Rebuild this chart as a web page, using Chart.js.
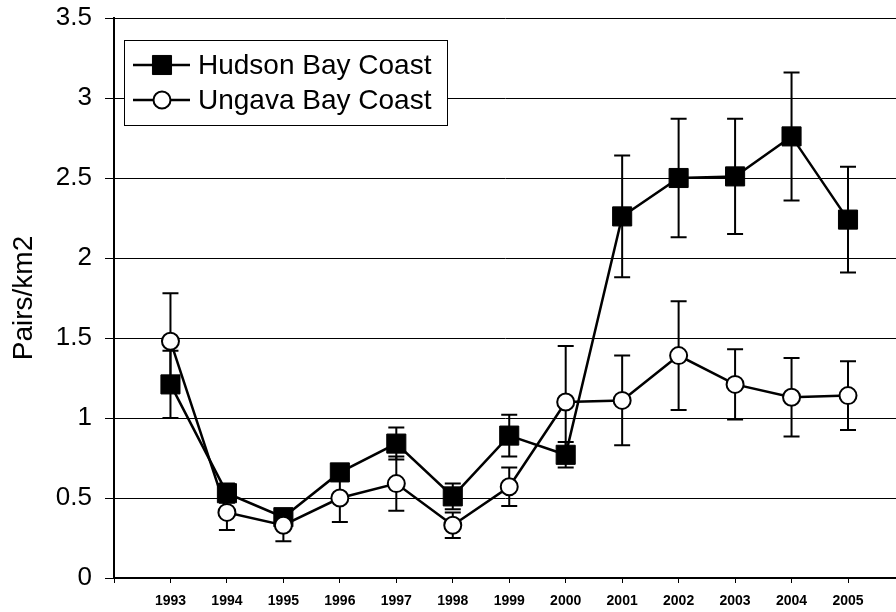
<!DOCTYPE html>
<html lang="en">
<head>
  <meta charset="UTF-8">
  <title>Pairs/km2 by year</title>
  <script src="https://cdn.jsdelivr.net/npm/chart.js"></script>
  <style>
    html, body {
      margin: 0;
      padding: 0;
      background: #fff;
      overflow: hidden;
    }

    canvas {
      display: block;
    }
  </style>
</head>
<body>
  <canvas id="chart" width="896" height="612"></canvas>

  <script>
    // data
    const years = [1993, 1994, 1995, 1996, 1997, 1998, 1999, 2000, 2001, 2002, 2003, 2004, 2005];
    const hudson = [1.21, 0.53, 0.38, 0.66, 0.84, 0.51, 0.89, 0.77, 2.26, 2.50, 2.51, 2.76, 2.24];
    const hudsonErr = [0.21, 0.06, 0.05, 0.05, 0.10, 0.08, 0.13, 0.08, 0.38, 0.37, 0.36, 0.40, 0.33];
    const ungava = [1.48, 0.41, 0.33, 0.50, 0.59, 0.33, 0.57, 1.10, 1.11, 1.39, 1.21, 1.13, 1.14];
    const ungavaErr = [0.30, 0.11, 0.10, 0.15, 0.17, 0.08, 0.12, 0.35, 0.28, 0.34, 0.22, 0.245, 0.215];
    const seriesNames = ['Hudson Bay Coast', 'Ungava Bay Coast'];
    const yTicks = [0, 0.5, 1, 1.5, 2, 2.5, 3, 3.5];

    const FONT = "'Liberation Sans', Arial, sans-serif";

    function points(vals) {
      return years.map((y, i) => ({ x: y, y: vals[i] }));
    }

    // vertical error bars with caps, drawn under the markers
    const errorBars = {
      id: 'errorBars',
      beforeDatasetsDraw(chart) {
        const ctx = chart.ctx;
        const xs = chart.scales.x;
        const ys = chart.scales.y;
        ctx.save();
        ctx.strokeStyle = '#000';
        ctx.lineWidth = 2;
        chart.data.datasets.forEach(ds => {
          ds.data.forEach((p, i) => {
            const e = ds.errors[i];
            const px = xs.getPixelForValue(p.x);
            const top = ys.getPixelForValue(p.y + e);
            const bot = ys.getPixelForValue(p.y - e);
            ctx.beginPath();
            ctx.moveTo(px, top);
            ctx.lineTo(px, bot);
            ctx.moveTo(px - 8, top);
            ctx.lineTo(px + 8, top);
            ctx.moveTo(px - 8, bot);
            ctx.lineTo(px + 8, bot);
            ctx.stroke();
          });
        });
        ctx.restore();
      }
    };

    // boxed legend inside the plot, top left
    const boxLegend = {
      id: 'boxLegend',
      afterDraw(chart) {
        const ctx = chart.ctx;
        const area = chart.chartArea;
        const bx = area.left + 10, by = area.top + 22;
        const bw = 323, bh = 85;
        ctx.save();
        ctx.fillStyle = '#fff';
        ctx.fillRect(bx, by, bw, bh);
        ctx.strokeStyle = '#000';
        ctx.lineWidth = 1;
        ctx.strokeRect(bx + 0.5, by + 0.5, bw, bh);
        ctx.font = '28px ' + FONT;
        ctx.textBaseline = 'middle';
        chart.data.datasets.forEach((ds, i) => {
          const cy = by + 25 + i * 35;
          ctx.strokeStyle = '#000';
          ctx.lineWidth = 2.5;
          ctx.beginPath();
          ctx.moveTo(bx + 9, cy);
          ctx.lineTo(bx + 66, cy);
          ctx.stroke();
          ctx.fillStyle = ds.pointBackgroundColor;
          ctx.beginPath();
          if (ds.pointStyle === 'circle') {
            ctx.arc(bx + 38, cy, ds.pointRadius, 0, Math.PI * 2);
          } else {
            const s = ds.pointRadius * Math.SQRT1_2;
            ctx.rect(bx + 38 - s, cy - s, 2 * s, 2 * s);
          }
          ctx.fill();
          ctx.lineWidth = ds.pointBorderWidth;
          ctx.stroke();
          ctx.fillStyle = '#000';
          ctx.fillText(ds.label, bx + 74, cy + 1);
        });
        ctx.restore();
      }
    };

    new Chart(document.getElementById('chart'), {
      type: 'line',
      data: {
        datasets: [{
          label: seriesNames[0],
          data: points(hudson),
          errors: hudsonErr,
          borderColor: '#000',
          borderWidth: 2.5,
          pointStyle: 'rect',
          pointRadius: 13.5,
          pointBackgroundColor: '#000',
          pointBorderColor: '#000',
          pointBorderWidth: 1,
          tension: 0,
          order: 1
        }, {
          label: seriesNames[1],
          data: points(ungava),
          errors: ungavaErr,
          borderColor: '#000',
          borderWidth: 2.5,
          pointStyle: 'circle',
          pointRadius: 8.5,
          pointBackgroundColor: '#fff',
          pointBorderColor: '#000',
          pointBorderWidth: 2,
          tension: 0,
          order: 0
        }]
      },
      options: {
        responsive: false,
        animation: false,
        devicePixelRatio: 1,
        layout: {
          autoPadding: false,
          padding: { top: 18, right: 0, bottom: 0, left: 0 }
        },
        plugins: {
          legend: { display: false },
          tooltip: { enabled: false }
        },
        scales: {
          x: {
            type: 'linear',
            min: 1992,
            max: 2005.85,
            afterFit(scale) {
              scale.height = 34;
              scale.paddingLeft = 0;
              scale.paddingRight = 0;
            },
            grid: {
              drawOnChartArea: false,
              color: '#000',
              tickLength: 5
            },
            border: { color: '#000', width: 2 },
            ticks: {
              stepSize: 1,
              includeBounds: false,
              autoSkip: false,
              maxRotation: 0,
              padding: 10,
              color: '#000',
              font: { family: FONT, size: 14, weight: 'bold' },
              callback: v => (years.includes(v) ? String(v) : '')
            }
          },
          y: {
            min: 0,
            max: 3.5,
            afterFit(scale) {
              scale.width = 114;
              scale.paddingTop = 0;
              scale.paddingBottom = 0;
            },
            afterBuildTicks(scale) {
              scale.ticks = yTicks.map(v => ({ value: v }));
            },
            grid: {
              color: '#000',
              lineWidth: 1,
              tickLength: 9
            },
            border: { color: '#000', width: 2 },
            ticks: {
              padding: 13,
              color: '#000',
              font: { family: FONT, size: 26 },
              callback: v => String(v)
            },
            title: {
              display: true,
              text: 'Pairs/km2',
              color: '#000',
              font: { family: FONT, size: 28 },
              padding: { top: 7, bottom: 0 }
            }
          }
        }
      },
      plugins: [errorBars, boxLegend]
    });
  </script>
</body>
</html>
